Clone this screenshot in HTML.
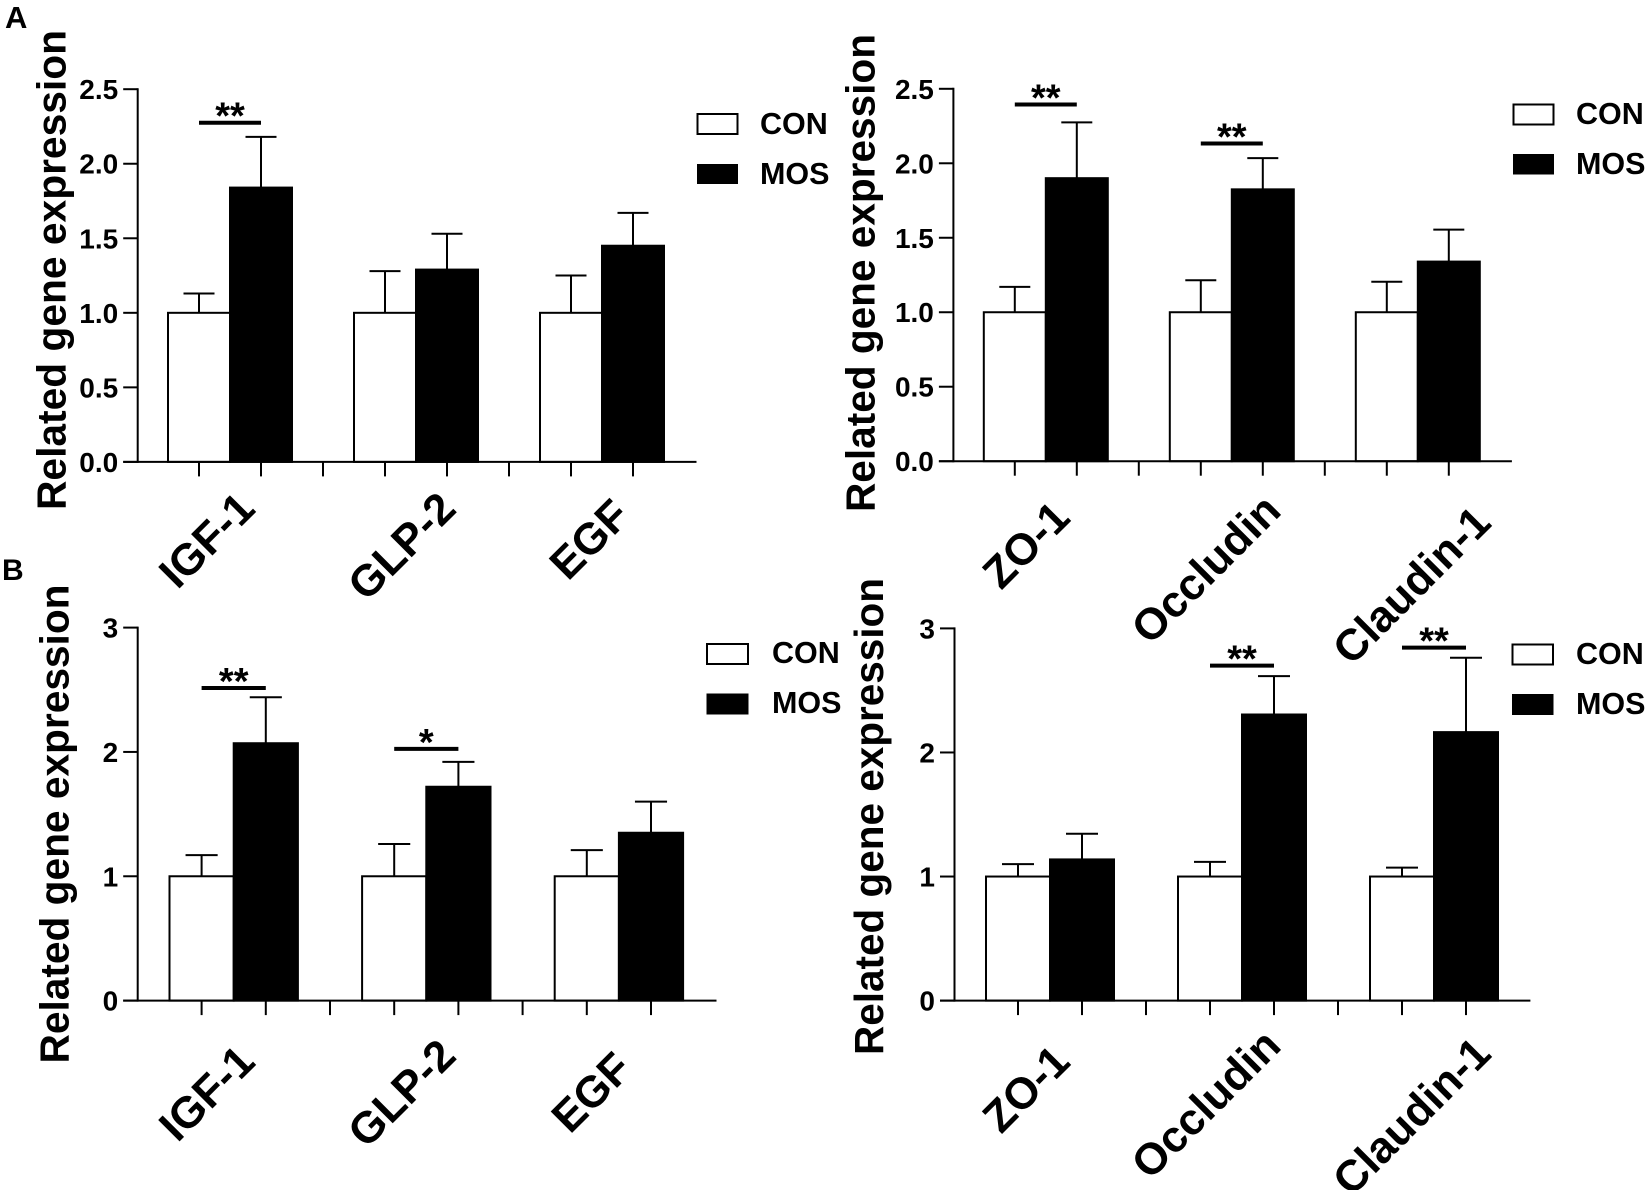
<!DOCTYPE html>
<html lang="en">
<head>
<meta charset="utf-8">
<title>Related gene expression: CON vs MOS</title>
<style>
html,body{margin:0;padding:0;background:#fff;}
svg{display:block;font-family:"Liberation Sans",Arial,sans-serif;font-weight:bold;fill:#000;}
</style>
</head>
<body>
<svg id="figure" xmlns="http://www.w3.org/2000/svg" width="1650" height="1190" viewBox="0 0 1650 1190">
  <rect x="0" y="0" width="1650" height="1190" fill="#fff"/>
  <text x="5" y="28" font-size="31">A</text>
  <text x="2" y="580" font-size="30">B</text>

  <text transform="translate(65.5,510) rotate(-90)" font-size="41" textLength="480" lengthAdjust="spacingAndGlyphs">Related gene expression</text>
  <text transform="translate(874.5,512) rotate(-90)" font-size="41" textLength="478" lengthAdjust="spacingAndGlyphs">Related gene expression</text>
  <text transform="translate(68.5,1063.5) rotate(-90)" font-size="41" textLength="479" lengthAdjust="spacingAndGlyphs">Related gene expression</text>
  <text transform="translate(883,1055) rotate(-90)" font-size="41" textLength="477" lengthAdjust="spacingAndGlyphs">Related gene expression</text>

  <g>
    <rect x="697.5" y="114" width="40" height="20" fill="#fff" stroke="#000" stroke-width="2"/>
    <text x="760" y="134" font-size="30.5">CON</text>
    <rect x="697" y="164" width="41" height="20" fill="#000"/>
    <text x="760" y="184" font-size="30.5">MOS</text>
  </g>
  <g>
    <rect x="1513.5" y="104.5" width="40" height="20" fill="#fff" stroke="#000" stroke-width="2"/>
    <text x="1576" y="124" font-size="30.5">CON</text>
    <rect x="1513" y="154" width="41" height="20.5" fill="#000"/>
    <text x="1576" y="174" font-size="30.5">MOS</text>
  </g>
  <g>
    <rect x="707" y="644" width="41" height="20" fill="#fff" stroke="#000" stroke-width="2"/>
    <text x="772" y="663" font-size="30.5">CON</text>
    <rect x="706.5" y="693.5" width="42" height="21" fill="#000"/>
    <text x="772" y="713" font-size="30.5">MOS</text>
  </g>
  <g>
    <rect x="1512.5" y="644.5" width="40.5" height="20" fill="#fff" stroke="#000" stroke-width="2"/>
    <text x="1576" y="664" font-size="30.5">CON</text>
    <rect x="1512" y="694" width="41.5" height="21" fill="#000"/>
    <text x="1576" y="714" font-size="30.5">MOS</text>
  </g>
</svg>
<script>
// Panel A, left
const a1Categories = ['IGF-1', 'GLP-2', 'EGF'];
const a1ConValues = [1.0, 1.0, 1.0];
const a1ConErrorTops = [1.13, 1.28, 1.25];
const a1MosValues = [1.84, 1.29, 1.45];
const a1MosErrorTops = [2.18, 1.53, 1.67];
const a1SigHeights = [2.275, null, null];
const a1SigMarks = ['**', '', ''];
const a1TickLabels = ['0.0', '0.5', '1.0', '1.5', '2.0', '2.5'];

// Panel A, right
const a2Categories = ['ZO-1', 'Occludin', 'Claudin-1'];
const a2ConValues = [1.0, 1.0, 1.0];
const a2ConErrorTops = [1.17, 1.215, 1.205];
const a2MosValues = [1.90, 1.825, 1.34];
const a2MosErrorTops = [2.275, 2.035, 1.555];
const a2SigHeights = [2.395, 2.133, null];
const a2SigMarks = ['**', '**', ''];
const a2TickLabels = ['0.0', '0.5', '1.0', '1.5', '2.0', '2.5'];

// Panel B, left
const b1Categories = ['IGF-1', 'GLP-2', 'EGF'];
const b1ConValues = [1.0, 1.0, 1.0];
const b1ConErrorTops = [1.17, 1.26, 1.21];
const b1MosValues = [2.07, 1.72, 1.35];
const b1MosErrorTops = [2.44, 1.92, 1.60];
const b1SigHeights = [2.514, 2.025, null];
const b1SigMarks = ['**', '*', ''];
const b1TickLabels = ['0', '1', '2', '3'];

// Panel B, right
const b2Categories = ['ZO-1', 'Occludin', 'Claudin-1'];
const b2ConValues = [1.0, 1.0, 1.0];
const b2ConErrorTops = [1.10, 1.118, 1.072];
const b2MosValues = [1.138, 2.306, 2.164];
const b2MosErrorTops = [1.345, 2.615, 2.763];
const b2SigHeights = [null, 2.70, 2.845];
const b2SigMarks = ['', '**', '**'];
const b2TickLabels = ['0', '1', '2', '3'];

const SVG_NS = 'http://www.w3.org/2000/svg';
const figure = document.getElementById('figure');

function make(tag, attrs, parent) {
  const node = document.createElementNS(SVG_NS, tag);
  for (const key in attrs) node.setAttribute(key, attrs[key]);
  parent.appendChild(node);
  return node;
}

function drawPanel(p) {
  const group = make('g', {}, figure);
  
  

  const yMax = Number(p.tickLabels[p.tickLabels.length - 1]);
  const yScale = v => p.y0 - (v / yMax) * (p.y0 - p.yTop);
  const xScale = (cat, series) => p.x0 + p.step * (3 * cat + series);
  const barW = p.step;

  // bars and error bars
  p.categories.forEach((name, i) => {
    [
      { key: 'con', s: 0, v: p.con[i], e: p.conErr[i], fill: '#fff' },
      { key: 'mos', s: 1, v: p.mos[i], e: p.mosErr[i], fill: '#000' }
    ].forEach(b => {
      const cx = xScale(i, b.s);
      const stem = make('line', { x1: cx, x2: cx, y1: yScale(b.v), y2: yScale(b.e), stroke: '#000', 'stroke-width': 2 }, group);
      
      
      const cap = make('line', { x1: cx - barW / 4, x2: cx + barW / 4, y1: yScale(b.e), y2: yScale(b.e), stroke: '#000', 'stroke-width': 2 }, group);
      
      
      const bar = make('rect', { x: cx - barW / 2, y: yScale(b.v), width: barW, height: p.y0 - yScale(b.v), fill: b.fill, stroke: '#000', 'stroke-width': 2 }, group);
      
      
    });

    if (p.sigHeights[i] !== null) {
      const sy = yScale(p.sigHeights[i]);
      const sx1 = xScale(i, 0);
      const sx2 = xScale(i, 1);
      const sig = make('line', { x1: sx1, x2: sx2, y1: sy, y2: sy, stroke: '#000', 'stroke-width': 4 }, group);
      
      
      const star = make('text', { x: (sx1 + sx2) / 2, y: sy + 6, 'font-size': 38, 'text-anchor': 'middle' }, group);
      
      
      star.textContent = p.sigMarks[i];
    }

    const lx = p.labelEnds[i][0];
    const ly = p.labelEnds[i][1];
    const label = make('text', { x: lx, y: ly, 'font-size': 44, 'text-anchor': 'end', transform: 'rotate(-45 ' + lx + ' ' + ly + ')' }, group);
    
    
    label.textContent = name;
  });

  // axes
  const yAxis = make('line', { x1: p.xAxis, x2: p.xAxis, y1: p.yTop - 1, y2: p.y0 + 1, stroke: '#000', 'stroke-width': 2 }, group);
  
  
  const xAxis = make('line', { x1: p.xAxis - 14.5, x2: p.xEnd, y1: p.y0, y2: p.y0, stroke: '#000', 'stroke-width': 2 }, group);
  
  

  p.tickLabels.forEach(t => {
    const ty = yScale(Number(t));
    const tick = make('line', { x1: p.xAxis - 14.5, x2: p.xAxis, y1: ty, y2: ty, stroke: '#000', 'stroke-width': 2 }, group);
    
    
    const tickLabel = make('text', { x: p.xAxis - 19.5, y: ty + 10, 'font-size': 28, 'text-anchor': 'end' }, group);
    
    
    tickLabel.textContent = t;
  });

  for (let i = 0; i < p.categories.length * 3 - 1; i++) {
    const tx = p.x0 + p.step * i;
    const xTick = make('line', { x1: tx, x2: tx, y1: p.y0, y2: p.y0 + 14.5, stroke: '#000', 'stroke-width': 2 }, group);
    
    
  }
}

drawPanel({
  id: 'a-left', categories: a1Categories, con: a1ConValues, conErr: a1ConErrorTops,
  mos: a1MosValues, mosErr: a1MosErrorTops, sigHeights: a1SigHeights, sigMarks: a1SigMarks,
  tickLabels: a1TickLabels,
  xAxis: 137.7, xEnd: 696.5, yTop: 89.2, y0: 461.9, x0: 199, step: 62,
  labelEnds: [[257, 511], [458, 511], [632, 518]]
});
drawPanel({
  id: 'a-right', categories: a2Categories, con: a2ConValues, conErr: a2ConErrorTops,
  mos: a2MosValues, mosErr: a2MosErrorTops, sigHeights: a2SigHeights, sigMarks: a2SigMarks,
  tickLabels: a2TickLabels,
  xAxis: 953.4, xEnd: 1511.9, yTop: 88.8, y0: 461.2, x0: 1014.8, step: 62,
  labelEnds: [[1072, 520], [1283, 513], [1493, 525]]
});
drawPanel({
  id: 'b-left', categories: b1Categories, con: b1ConValues, conErr: b1ConErrorTops,
  mos: b1MosValues, mosErr: b1MosErrorTops, sigHeights: b1SigHeights, sigMarks: b1SigMarks,
  tickLabels: b1TickLabels,
  xAxis: 137.7, xEnd: 716.5, yTop: 627.6, y0: 1000.6, x0: 201.6, step: 64.2,
  labelEnds: [[257, 1064], [458, 1058], [634, 1071]]
});
drawPanel({
  id: 'b-right', categories: b2Categories, con: b2ConValues, conErr: b2ConErrorTops,
  mos: b2MosValues, mosErr: b2MosErrorTops, sigHeights: b2SigHeights, sigMarks: b2SigMarks,
  tickLabels: b2TickLabels,
  xAxis: 954.5, xEnd: 1530.4, yTop: 628.4, y0: 1000.6, x0: 1018, step: 64,
  labelEnds: [[1072, 1064], [1283, 1048], [1493, 1056]]
});
</script>
</body>
</html>
